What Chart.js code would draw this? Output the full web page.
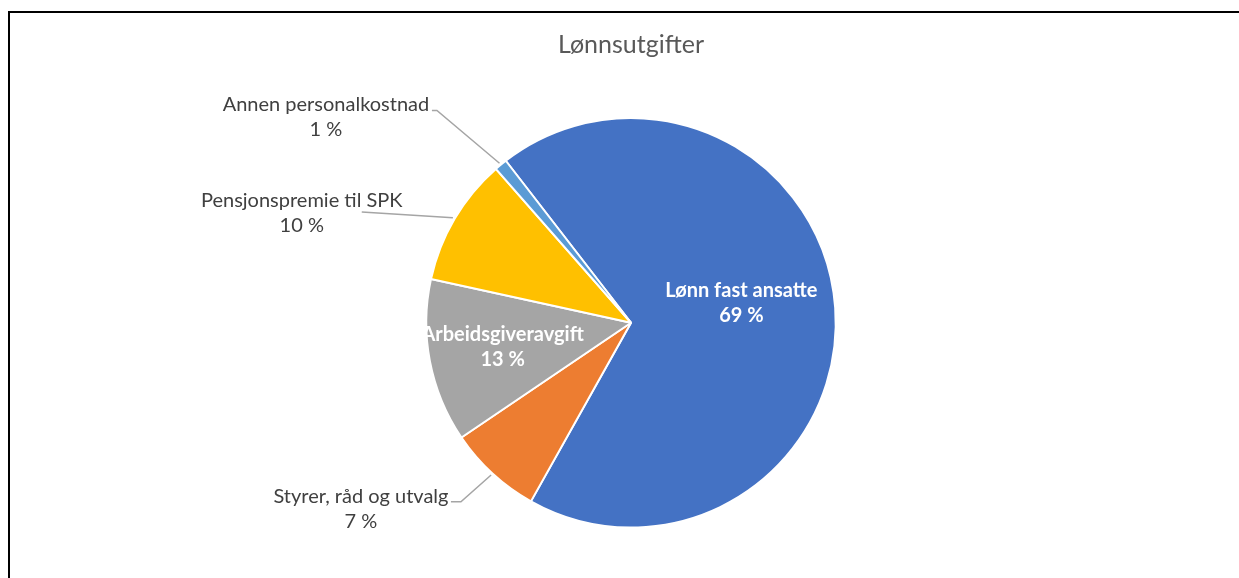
<!DOCTYPE html>
<html>
<head>
<meta charset="utf-8">
<script src="https://cdn.jsdelivr.net/npm/chart.js@4"></script>
<style>
  html, body { margin: 0; padding: 0; background: #fff; overflow: hidden; }
  .wrap { position: relative; width: 1239px; height: 578px; }
  .frame { position: absolute; left: 8px; top: 11px; right: -10px; bottom: -10px;
           border-top: 2px solid #000; border-left: 2px solid #000; }
  canvas { position: absolute; left: 0; top: 0; }
</style>
</head>
<body>
<div class="wrap">
  <div class="frame"></div>
  <canvas id="myPie" width="1239" height="578"></canvas>
</div>
<script>
let title = 'Lønnsutgifter';
let categories = ['Lønn fast ansatte', 'Styrer, råd og utvalg', 'Arbeidsgiveravgift', 'Pensjonspremie til SPK', 'Annen personalkostnad'];
let values = [68.6, 7.4, 12.9, 10.1, 1.0];
let colors = ['#4472C4', '#ED7D31', '#A5A5A5', '#FFC000', '#5B9BD5'];

// label centre, in pie radii from the pie centre; inside labels are white + bold
let labelPos = [[0.539, -0.098], [-1.319, 0.909], [-0.627, 0.120], [-1.608, -0.534], [-1.490, -1.005]];
let labelInside = [true, false, true, false, false];
// leader start (px from label centre) and length of the flat bit
let leaderStart = [null, [90, -7, 10], null, [60, -1.5, 0], [106, -6.5, 5]];

let fontFamily = 'Lato, "Open Sans", sans-serif';
let labelSize = 20;

const sliceLabels = {
  id: 'sliceLabels',
  afterDatasetsDraw(chart) {
    let ctx = chart.ctx;
    let meta = chart.getDatasetMeta(0);
    let total = values.reduce((a, b) => a + b, 0);
    let lh = labelSize * 1.25;
    meta.data.forEach((arc, i) => {
      let p = arc.getProps(['x', 'y', 'outerRadius', 'startAngle', 'endAngle'], true);
      let r = p.outerRadius;
      let cx = p.x + labelPos[i][0] * r;
      let cy = p.y + labelPos[i][1] * r;
      let lines = [categories[i], Math.round(values[i] / total * 100) + ' %'];
      ctx.save();
      ctx.font = (labelInside[i] ? 'bold ' : '') + labelSize + 'px ' + fontFamily;
      ctx.fillStyle = labelInside[i] ? '#ffffff' : '#404040';
      ctx.textAlign = 'center';
      ctx.textBaseline = 'middle';
      lines.forEach((t, k) => {
        ctx.fillText(t, cx, cy + (k - 0.5) * lh);
      });
      if (leaderStart[i]) {
        let mid = (p.startAngle + p.endAngle) / 2;
        let ax = cx + leaderStart[i][0];
        let ay = cy + leaderStart[i][1];
        ctx.strokeStyle = '#A5A5A5';
        ctx.lineWidth = 1.5;
        ctx.beginPath();
        ctx.moveTo(ax, ay);
        ctx.lineTo(ax + leaderStart[i][2], ay);
        ctx.lineTo(p.x + Math.cos(mid) * (r + 2), p.y + Math.sin(mid) * (r + 2));
        ctx.stroke();
      }
      ctx.restore();
    });
  }
};

let ctx = document.getElementById('myPie').getContext('2d');
let myPie = new Chart(ctx, {
  type: 'pie',
  data: {
    labels: categories,
    datasets: [{
      data: values,
      backgroundColor: colors,
      borderColor: '#ffffff',
      borderWidth: 2,
    }],
  },
  options: {
    responsive: false,
    animation: false,
    rotation: -37.7,
    layout: { padding: { top: 20, bottom: 49.5, left: 23, right: 0 } },
    plugins: {
      legend: { display: false },
      tooltip: { enabled: false },
      title: {
        display: true,
        text: title,
        color: '#595959',
        font: { family: fontFamily, size: 25, weight: 'normal' },
        padding: { top: 10, bottom: 57 },
      },
    },
  },
  plugins: [sliceLabels],
});
</script>
</body>
</html>
